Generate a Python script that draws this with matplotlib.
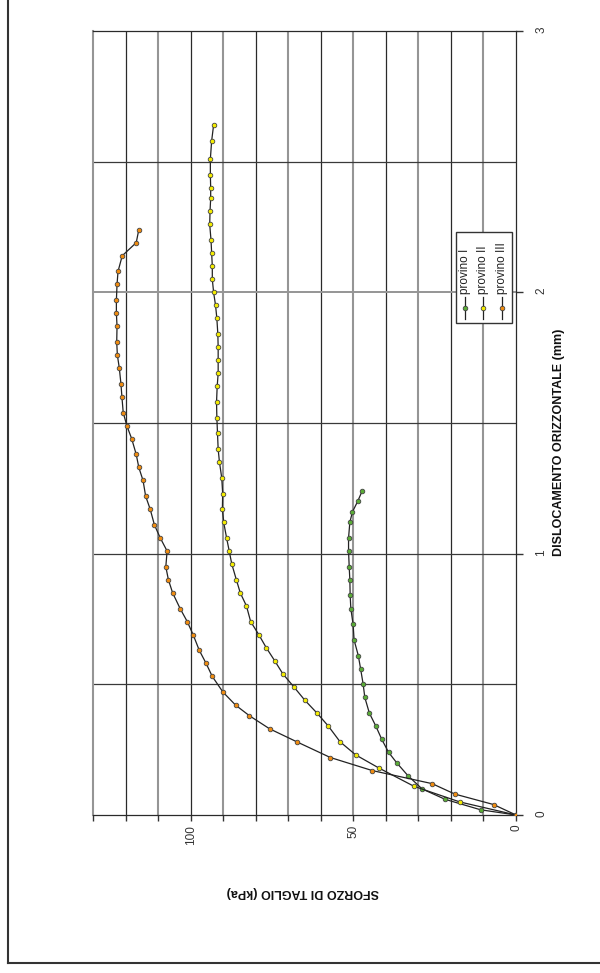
import numpy as np
import matplotlib
matplotlib.use('Agg')
import matplotlib.pyplot as plt
from matplotlib.lines import Line2D
from matplotlib.patches import Rectangle

plt.rcParams['font.family'] = ['Liberation Sans', 'DejaVu Sans']

# horizontal displacement (mm) and shear stress (kPa) for the three specimens
disp_1 = [0, 0.02, 0.06, 0.10, 0.15, 0.20, 0.24, 0.29, 0.34, 0.39, 0.45, 0.50, 0.56,
          0.61, 0.67, 0.73, 0.79, 0.84, 0.90, 0.95, 1.01, 1.06, 1.12, 1.16, 1.20, 1.24]
tau_1 = [0, 10.9, 21.8, 28.9, 33.2, 36.7, 39.2, 41.3, 43.1, 45.1, 46.5, 47.0, 47.8,
         48.5, 49.8, 50.1, 50.8, 51.0, 51.1, 51.3, 51.5, 51.5, 51.1, 50.3, 48.7, 47.3]

disp_2 = [0, 0.05, 0.11, 0.18, 0.23, 0.28, 0.34, 0.39, 0.44, 0.49, 0.54, 0.59, 0.64,
          0.69, 0.74, 0.80, 0.85, 0.90, 0.96, 1.01, 1.06, 1.12, 1.17, 1.23, 1.29, 1.35,
          1.40, 1.46, 1.52, 1.58, 1.64, 1.69, 1.74, 1.79, 1.84, 1.90, 1.95, 2.00, 2.05,
          2.10, 2.15, 2.20, 2.26, 2.31, 2.36, 2.40, 2.45, 2.51, 2.58, 2.64]
tau_2 = [0, 17.3, 31.4, 42.2, 49.3, 54.1, 57.7, 61.2, 65.0, 68.3, 71.7, 74.2, 76.8,
         79.1, 81.6, 82.9, 84.8, 86.0, 87.4, 88.2, 89.0, 89.9, 90.3, 90.2, 90.5, 91.2,
         91.6, 91.8, 92.0, 92.1, 91.9, 91.6, 91.6, 91.6, 91.7, 92.0, 92.4, 93.0, 93.4,
         93.4, 93.6, 93.8, 94.2, 94.1, 93.9, 93.9, 94.0, 94.0, 93.6, 93.0]

disp_3 = [0, 0.04, 0.08, 0.12, 0.17, 0.22, 0.28, 0.33, 0.38, 0.42, 0.47, 0.53, 0.58,
          0.63, 0.69, 0.74, 0.79, 0.85, 0.90, 0.95, 1.01, 1.06, 1.11, 1.17, 1.22, 1.28,
          1.33, 1.38, 1.44, 1.49, 1.54, 1.60, 1.65, 1.71, 1.76, 1.81, 1.87, 1.92, 1.97,
          2.03, 2.08, 2.14, 2.19, 2.24]
tau_3 = [0, 6.9, 18.8, 25.8, 44.2, 57.1, 67.4, 75.8, 82.0, 86.2, 90.1, 93.4, 95.3,
         97.4, 99.3, 101.1, 103.3, 105.6, 106.9, 107.7, 107.3, 109.4, 111.2, 112.5, 113.9, 114.7,
         116.0, 116.8, 118.2, 119.7, 120.8, 121.2, 121.5, 122.0, 122.6, 122.8, 122.7, 122.9, 122.9,
         122.7, 122.4, 121.1, 116.8, 116.0]

labels = ['provino I', 'provino II', 'provino III']
colors = ['#5aac36', '#f4ec00', '#f08c10']

fig = plt.figure(figsize=(6, 9.73), dpi=100)
ax = fig.add_axes([93.3 / 600, 1 - 815 / 973, 422.7 / 600, 784 / 973])

# grid (chart is printed turned on its side: stress runs right to left)
for v in np.arange(10, 130, 10):
    if v % 20 == 0:
        ax.axvline(v, color='#2a2a2a', lw=0.9, zorder=0)
    else:
        ax.axvline(v, color='#959595', lw=1.5, zorder=0)
for h in np.arange(0.5, 3, 0.5):
    if h == 2.0:
        ax.axhline(h, color='#959595', lw=1.4, zorder=0)
    else:
        ax.axhline(h, color='#3a3a3a', lw=0.9, zorder=0)

for d, t, c in zip([disp_1, disp_2, disp_3], [tau_1, tau_2, tau_3], colors):
    ax.plot(t, d, color='#222222', lw=0.9, marker='o', ms=3.3,
            mfc=c, mec='#444444', mew=0.6, zorder=3)

ax.set_xlim(130, 0)
ax.set_ylim(0, 3)

ax.set_xticks(np.arange(0, 131, 10))
ax.set_xticklabels([str(v) if v in (0, 50, 100) else '' for v in range(0, 131, 10)])
ax.tick_params(axis='x', direction='out', length=4, width=1, color='#333333',
               labelrotation=90, pad=3, labelsize=8.5, labelcolor='#333333')

ax.yaxis.tick_right()
ax.set_yticks([0, 1, 2, 3])
ax.set_yticklabels(['0', '1', '2', '3'])
ax.tick_params(axis='y', direction='out', length=5, width=1, color='#333333',
               labelrotation=90, pad=9, labelsize=8.5, labelcolor='#333333')

for side in ['top', 'right', 'bottom']:
    ax.spines[side].set_color('#2a2a2a')
    ax.spines[side].set_linewidth(0.9)
ax.spines['left'].set_color('#959595')
ax.spines['left'].set_linewidth(1.5)

fig.text(559 / 600, 1 - 442 / 973, 'DISLOCAMENTO ORIZZONTALE (mm)', rotation=90,
         ha='center', va='center', fontsize=9, fontweight='bold',
         family=['Liberation Sans Narrow', 'Liberation Sans', 'DejaVu Sans'], color='#111111')
fig.text(303 / 600, 1 - 892 / 973, 'SFORZO DI TAGLIO (kPa)', rotation=180,
         ha='center', va='center', fontsize=9, fontweight='bold', color='#111111')

# sideways legend
def ax_x(px):
    return (px - 93.3) / 422.7

def ax_y(py):
    return (815 - py) / 784

ax.add_patch(Rectangle((ax_x(455.7), ax_y(323.3)), ax_x(511.7) - ax_x(455.7),
                       ax_y(232.3) - ax_y(323.3), transform=ax.transAxes,
                       facecolor='white', edgecolor='#333333', lw=1.0, zorder=4))
for px, lab, c in zip([465, 483.3, 502.3], labels, colors):
    ax.add_line(Line2D([ax_x(px), ax_x(px)], [ax_y(319), ax_y(296.7)], transform=ax.transAxes,
                       color='#222222', lw=0.9, zorder=5))
    ax.add_line(Line2D([ax_x(px)], [ax_y(307.8)], transform=ax.transAxes, marker='o',
                       ms=3.3, mfc=c, mec='#444444', mew=0.6, zorder=6))
    ax.text(ax_x(px), ax_y(294.5), lab, transform=ax.transAxes, rotation=90,
            ha='center', va='bottom', fontsize=8.5, color='#222222', zorder=6)

# page frame
fig.add_artist(Line2D([8 / 600, 8 / 600], [1 - 963 / 973, 1], color='#333333', lw=1.5))
fig.add_artist(Line2D([8 / 600, 1], [1 - 963 / 973, 1 - 963 / 973], color='#333333', lw=1.5))

fig.savefig('out.png', dpi=100)
